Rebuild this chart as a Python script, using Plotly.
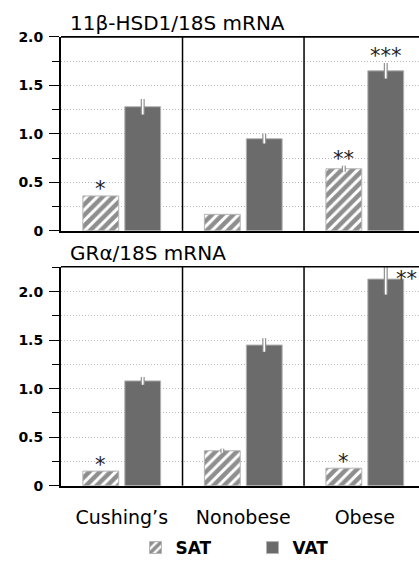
import plotly.graph_objects as go

# ---------------- data ----------------
categories = ["Cushing’s", "Nonobese", "Obese"]
series_names = ["SAT", "VAT"]

hsd_sat = [0.36, 0.17, 0.64]
hsd_sat_err = [0.0, 0.0, 0.03]
hsd_vat = [1.28, 0.95, 1.65]
hsd_vat_err = [0.08, 0.05, 0.08]

gr_sat = [0.15, 0.36, 0.18]
gr_sat_err = [0.0, 0.02, 0.0]
gr_vat = [1.08, 1.45, 2.13]
gr_vat_err = [0.04, 0.07, 0.16]

panel_titles = ["11β-HSD1/18S mRNA", "GRα/18S mRNA"]
y_tickvals = [0, 0.5, 1.0, 1.5, 2.0]
y_ticktext = ["0", "0.5", "1.0", "1.5", "2.0"]

# significance marks: (category index, series, text)
stars_top = [(0, "SAT", "*"), (2, "SAT", "**"), (2, "VAT", "***")]
stars_bottom = [(0, "SAT", "*"), (2, "SAT", "*"), (2, "VAT", "**")]

# ---------------- style ----------------
FONT = "DejaVu Sans"
BAR_W = 0.295
OFFSETS = {"SAT": -0.32, "VAT": 0.025}
VAT_COLOR = "#6b6b6b"
EDGE = "#b4b4b4"
GRID = "#b8b8b8"

panels = [
    dict(sat=hsd_sat, sat_err=hsd_sat_err, vat=hsd_vat, vat_err=hsd_vat_err,
         xa="x", ya="y", rng=[0, 2.0], dom=[1 - 238 / 566, 1 - 38 / 566],
         title=panel_titles[0], stars=stars_top, tpos=1 - 24 / 566),
    dict(sat=gr_sat, sat_err=gr_sat_err, vat=gr_vat, vat_err=gr_vat_err,
         xa="x2", ya="y2", rng=[0, 2.257], dom=[1 - 500.7 / 566, 1 - 275 / 566],
         title=panel_titles[1], stars=stars_bottom, tpos=1 - 261 / 566),
]

fig = go.Figure()

for pi, p in enumerate(panels):
    vals = {"SAT": p["sat"], "VAT": p["vat"]}
    errs = {"SAT": p["sat_err"], "VAT": p["vat_err"]}
    for s in series_names:
        if s == "SAT":
            marker = dict(color="white",
                          pattern=dict(shape="/", fgcolor="#1e1e1e", bgcolor="white",
                                       size=7.5, solidity=0.6),
                          line=dict(color=EDGE, width=1))
        else:
            marker = dict(color=VAT_COLOR, line=dict(color=EDGE, width=1))
        fig.add_trace(go.Bar(
            x=categories, y=vals[s], name=s, marker=marker,
            offset=OFFSETS[s], width=BAR_W, xaxis=p["xa"], yaxis=p["ya"],
            showlegend=(pi == 0), legendgroup=s, hoverinfo="skip"))
    # error bars: grey outline then white core
    for col, th in (("#8f8f8f", 4), ("white", 1.6)):
        for s in series_names:
            fig.add_trace(go.Bar(
                x=categories, y=vals[s], offset=OFFSETS[s], width=BAR_W,
                marker=dict(color="rgba(0,0,0,0)", line=dict(width=0)),
                error_y=dict(type="data", array=errs[s], color=col,
                             thickness=th, width=0),
                xaxis=p["xa"], yaxis=p["ya"], showlegend=False, hoverinfo="skip"))

annotations = []
shapes = []
for pi, p in enumerate(panels):
    vals = {"SAT": p["sat"], "VAT": p["vat"]}
    errs = {"SAT": p["sat_err"], "VAT": p["vat_err"]}
    annotations.append(dict(text=p["title"], xref="paper", yref="paper",
                            x=(68 - 61) / 358, y=p["tpos"], xanchor="left",
                            yanchor="middle", showarrow=False,
                            font=dict(family=FONT, size=20, color="black")))
    for (ci, s, txt) in p["stars"]:
        top = vals[s][ci] + errs[s][ci]
        xc = ci + OFFSETS[s] + BAR_W / 2
        yc = top + 0.13
        if pi == 1 and s == "VAT":
            xc = ci + 0.34
            yc = vals[s][ci] + 0.06
        annotations.append(dict(text=txt, x=xc, y=yc, xref=p["xa"], yref=p["ya"],
                                showarrow=False, yshift=-6,
                                font=dict(family=FONT, size=21, color="#222")))
    xd = p["xa"] + " domain"
    yd = p["ya"] + " domain"
    # top border
    shapes.append(dict(type="line", xref=xd, yref=yd, x0=0, x1=1, y0=1, y1=1,
                       line=dict(color="black", width=1.6)))
    # group separators
    for k in range(len(categories) - 1):
        shapes.append(dict(type="line", xref=p["xa"], yref=yd, x0=k + 0.5, x1=k + 0.5,
                           y0=0, y1=1, line=dict(color="black", width=1.5)))

xrange = [-0.5, 2.446]
common_x = dict(range=xrange, showline=True, linecolor="black", linewidth=2,
                showgrid=False, zeroline=False, ticks="", fixedrange=True)
common_y = dict(showline=True, linecolor="black", linewidth=2, zeroline=False,
                tickvals=y_tickvals, ticktext=y_ticktext, ticks="outside",
                ticklen=10, tickwidth=1, tickcolor="black",
                tickfont=dict(family=FONT, size=14, color="black", weight="bold"),
                showgrid=True, gridcolor=GRID, gridwidth=1, griddash="1px,2px",
                minor=dict(dtick=0.25, tick0=0, ticks="outside", ticklen=7,
                           tickcolor="black", tickwidth=1, showgrid=True,
                           gridcolor=GRID, gridwidth=1, griddash="1px,2px"),
                ticklabelstandoff=3, automargin=False, fixedrange=True)

fig.update_layout(
    width=419, height=566,
    margin=dict(l=61, r=0, t=0, b=0),
    paper_bgcolor="white", plot_bgcolor="white",
    barmode="overlay",
    font=dict(family=FONT, color="black"),
    xaxis=dict(common_x, domain=[0, 1], anchor="y", showticklabels=False),
    yaxis=dict(common_y, domain=panels[0]["dom"], anchor="x", range=panels[0]["rng"]),
    xaxis2=dict(common_x, domain=[0, 1], anchor="y2", showticklabels=True,
                tickfont=dict(family=FONT, size=19, color="black"),
                ticklabelstandoff=14, automargin=False),
    yaxis2=dict(common_y, domain=panels[1]["dom"], anchor="x2", range=panels[1]["rng"]),
    legend=dict(orientation="h", x=0.535, xanchor="center", y=1 - 565 / 566,
                yanchor="middle", font=dict(family=FONT, size=17, weight="bold"),
                itemwidth=30, entrywidth=72, entrywidthmode="pixels",
                bgcolor="rgba(0,0,0,0)"),
    annotations=annotations, shapes=shapes,
)

fig.write_html("out.html", config={"displayModeBar": False, "staticPlot": True},
               post_script="document.body.style.margin='0';document.body.style.overflow='hidden';")
